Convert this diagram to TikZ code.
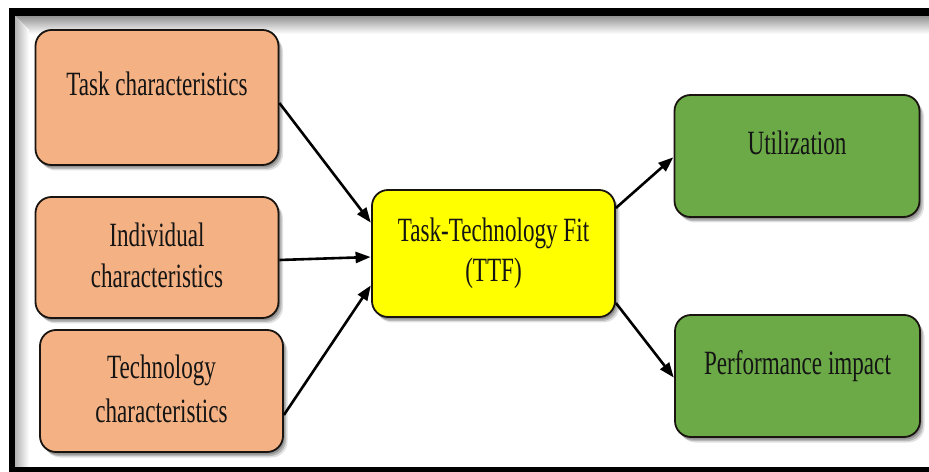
\documentclass[tikz,border=0pt]{standalone}
\usepackage{fontspec}
\newfontfamily\boxfont[FakeStretch=0.68]{Liberation Serif}
\usetikzlibrary{arrows.meta,shadows}

% place one line of text so that its baseline sits #1 above the node centre
\newcommand\textline[2]{\makebox[0pt][c]{\raisebox{#1}[0pt][0pt]{#2}}}

\definecolor{inputfill}{RGB}{244,177,131}
\definecolor{fitfill}{RGB}{255,255,0}
\definecolor{outfill}{RGB}{108,170,72}
\definecolor{edgeline}{RGB}{25,20,15}

\tikzset{
  card/.style={draw=edgeline, line width=1.8bp, rounded corners=16bp,
    minimum width=#1, inner sep=0pt, font=\boxfont\fontsize{34bp}{41bp}\selectfont,
    text=black!92,
    copy shadow={shadow xshift=4.5bp, shadow yshift=-5.5bp, draw=none,
                 fill=black, opacity=0.12},
    copy shadow={shadow xshift=3bp, shadow yshift=-4bp, draw=none,
                 fill=black, opacity=0.18},
    copy shadow={shadow xshift=1.5bp, shadow yshift=-2.5bp, draw=none,
                 fill=black, opacity=0.2}},
  inputbox/.style={card=243bp, fill=inputfill},
  fitbox/.style={card=243bp, fill=fitfill, minimum height=127bp},
  outbox/.style={card=245bp, fill=outfill, minimum height=122bp},
  link/.style={line width=2.6bp, draw=black,
    -{Triangle[length=15bp,width=11bp]}, shorten >=0.5bp}
}

\begin{document}
\begin{tikzpicture}[x=1bp, y=-1bp]
  \useasboundingbox (0,0) rectangle (929,472);
  \fill[white] (0,0) rectangle (929,472);

  % soft inner shadow along the top and left of the frame, built from strips
  \foreach \i in {0,...,17} {
    \pgfmathsetmacro\tone{42*(1-\i/18)}
    \fill[black!\tone] (15,16+\i) rectangle (929,17+\i);
  }
  \foreach \i in {0,...,13} {
    \pgfmathsetmacro\tone{30*(1-\i/14)}
    \fill[black!\tone] (15+\i,16+\i) rectangle (16+\i,467);
  }

  % frame: top, left and bottom rules (the right side runs off the page)
  \fill[black] (9,8) rectangle (929,16);
  \fill[black] (9,8) rectangle (15,472);
  \fill[black] (9,467) rectangle (929,472);

  % input constructs
  \node[inputbox, minimum height=135bp] (task) at (157,97.5)
    {\textline{1.5bp}{Task characteristics}};
  \node[inputbox, minimum height=121bp] (indiv) at (157,257.5)
    {\textline{10.5bp}{Individual}\textline{-30.5bp}{characteristics}};
  \node[inputbox, minimum height=122bp] (tech) at (161.5,391)
    {\textline{13bp}{Technology}\textline{-31bp}{characteristics}};

  % central construct
  \node[fitbox] (ttf) at (493.5,253.5)
    {\textline{11.5bp}{Task-Technology Fit}\textline{-28.5bp}{(TTF)}};

  % outcomes
  \node[outbox] (util) at (797,156) {\textline{1bp}{Utilization}};
  \node[outbox] (perf) at (797.5,376) {\textline{1bp}{Performance impact}};

  % connectors
  \draw[link] ([yshift=-5.5bp]task.east) -- ([yshift=30.5bp]ttf.west);
  \draw[link] ([yshift=-2.5bp]indiv.east) -- ([yshift=-3.5bp]ttf.west);
  \draw[link] ([yshift=-24bp]tech.east) -- ([yshift=-31.5bp]ttf.west);
  \draw[link] ([yshift=45.5bp]ttf.east) -- ([yshift=-1bp]util.west);
  \draw[link] ([yshift=-49.5bp]ttf.east) -- ([yshift=-2bp]perf.west);
\end{tikzpicture}
\end{document}
